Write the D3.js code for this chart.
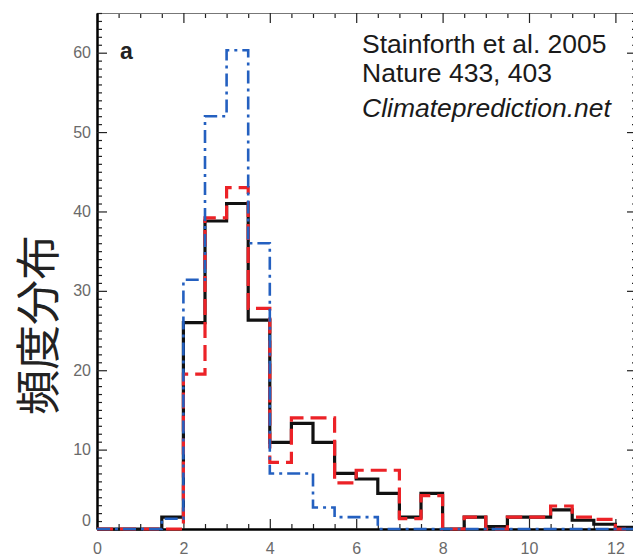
<!DOCTYPE html>
<html>
<head>
<meta charset="utf-8">
<script src="https://cdn.jsdelivr.net/npm/d3@7/dist/d3.min.js"></script>
<style>
  html, body { margin: 0; padding: 0; background: #fff; }
  svg { display: block; }
  .tick text { font-family: "Liberation Sans Narrow", "Liberation Sans", Arial, sans-serif; font-size: 16px; fill: #6a6a6a; }
</style>
</head>
<body>
<svg id="chart" width="633" height="557"></svg>
<script>
// Histogram bin edges: 0.5-wide bins from 0 to 12.5
const binEdges = [0, 0.5, 1, 1.5, 2, 2.5, 3, 3.5, 4, 4.5, 5, 5.5, 6, 6.5, 7, 7.5, 8, 8.5, 9, 9.5, 10, 10.5, 11, 11.5, 12, 12.5];

// Frequencies per bin (25 bins)
const solidBlack  = [0, 0, 0, 1.5, 26, 38.8, 41, 26.3, 10.9, 13.3, 10.9, 7, 6.3, 4.5, 1.5, 4.5, 0, 1.5, 0.3, 1.5, 1.5, 2.4, 1.1, 0.6, 0.2];
const dashedRed   = [0, 0, 0, 0, 19.5, 39.2, 43, 27.8, 8.4, 14, 14, 5.8, 7.4, 7.4, 1.3, 4.2, 0, 1.5, 0, 1.5, 1.5, 2.9, 1.5, 1.2, 0];
const dashDotBlue = [0, 0, 0, 1.3, 31.4, 52, 60.3, 36, 7, 7, 2.7, 1.5, 1.5, 0, 0, 0, 0, 0, 0, 0, 0, 0, 0, 0, 0];

const xTickValues = [0, 2, 4, 6, 8, 10, 12];
const yTickValues = [0, 10, 20, 30, 40, 50, 60];
const yTitle = "頻度分布";
const panelLabel = "a";
const noteLines = ["Stainforth et al. 2005", "Nature 433, 403"];
const noteItalic = "Climateprediction.net";

const svg = d3.select("#chart");
const plotLeft = 97, plotRight = 637, plotTop = 13, plotBottom = 529;

const x = d3.scaleLinear().domain([0, 12.5]).range([plotLeft, plotRight]);
const y = d3.scaleLinear().domain([0, 65]).range([plotBottom, plotTop]);

const minorX = d3.range(0, 12.51, 0.5).filter(v => v % 2 !== 0);
const minorY = d3.range(0, 65.01, 1).filter(v => v % 10 !== 0);

function styleAxis(g, domainWidth, domainColor) {
  g.select(".domain").attr("stroke", domainColor).attr("stroke-width", domainWidth);
  g.selectAll(".tick line").attr("stroke", "#222").attr("stroke-width", 1.2);
}

// Bottom axis: major ticks with labels, minor ticks every 0.5
svg.append("g").attr("transform", `translate(0,${plotBottom})`)
  .call(d3.axisBottom(x).tickValues(minorX).tickSizeInner(-5).tickSizeOuter(0).tickFormat(""))
  .call(g => styleAxis(g, 2, "#000"));
svg.append("g").attr("transform", `translate(0,${plotBottom})`)
  .call(d3.axisBottom(x).tickValues(xTickValues).tickSizeInner(-10).tickSizeOuter(0).tickPadding(14).tickFormat(d3.format("d")))
  .call(g => styleAxis(g, 2, "#000"));

// Top axis (ticks only)
svg.append("g").attr("transform", `translate(0,${plotTop})`)
  .call(d3.axisTop(x).tickValues(minorX).tickSizeInner(-5).tickSizeOuter(0).tickFormat(""))
  .call(g => styleAxis(g, 1, "#777"));
svg.append("g").attr("transform", `translate(0,${plotTop})`)
  .call(d3.axisTop(x).tickValues(xTickValues).tickSizeInner(-10).tickSizeOuter(0).tickFormat(""))
  .call(g => styleAxis(g, 1, "#777"));

// Left axis
svg.append("g").attr("transform", `translate(${plotLeft},0)`)
  .call(d3.axisLeft(y).tickValues(minorY).tickSizeInner(-5).tickSizeOuter(0).tickFormat(""))
  .call(g => styleAxis(g, 2, "#000"));
svg.append("g").attr("transform", `translate(${plotLeft},0)`)
  .call(d3.axisLeft(y).tickValues(yTickValues).tickSizeInner(-10).tickSizeOuter(0).tickPadding(6).tickFormat(d3.format("d")))
  .call(g => styleAxis(g, 2, "#000"))
  .call(g => g.selectAll(".tick text").filter(d => d === 0).attr("dy", "-0.2em"));

// Right axis (ticks only)
svg.append("g").attr("transform", `translate(${plotRight},0)`)
  .call(d3.axisRight(y).tickValues(minorY).tickSizeInner(-5).tickSizeOuter(0).tickFormat(""))
  .call(g => styleAxis(g, 1, "#555"));
svg.append("g").attr("transform", `translate(${plotRight},0)`)
  .call(d3.axisRight(y).tickValues(yTickValues).tickSizeInner(-10).tickSizeOuter(0).tickFormat(""))
  .call(g => styleAxis(g, 1, "#555"));

// Step histograms
const step = d3.line()
  .x(d => x(d[0]))
  .y(d => y(d[1]))
  .curve(d3.curveStepAfter);

function stepPoints(values) {
  const pts = values.map((v, i) => [binEdges[i], v]);
  pts.push([binEdges[binEdges.length - 1], values[values.length - 1]]);
  return pts;
}

const series = [
  { values: solidBlack,  color: "#111",    width: 3.2, dash: null },
  { values: dashedRed,   color: "#ec2227", width: 3.2, dash: "16,7" },
  { values: dashDotBlue, color: "#2460c0", width: 2.6, dash: "13,5,3,5" }
];

svg.append("g").selectAll("path")
  .data(series)
  .join("path")
  .attr("d", d => step(stepPoints(d.values)))
  .attr("fill", "none")
  .attr("stroke", d => d.color)
  .attr("stroke-width", d => d.width)
  .attr("stroke-dasharray", d => d.dash)
  .attr("stroke-linejoin", "miter")
  .attr("stroke-linecap", "butt");

// Panel label
svg.append("text")
  .attr("x", 120).attr("y", 59)
  .attr("font-family", "Liberation Sans, Arial, sans-serif")
  .attr("font-weight", "bold")
  .attr("font-size", 23)
  .attr("fill", "#222")
  .text(panelLabel);

// Citation note
const note = svg.append("g")
  .attr("font-family", "Liberation Sans, Arial, sans-serif")
  .attr("font-size", 26.5)
  .attr("fill", "#1a1a1a");
note.append("text").attr("x", 362).attr("y", 53).text(noteLines[0]);
note.append("text").attr("x", 362).attr("y", 82).text(noteLines[1]);
note.append("text").attr("x", 362).attr("y", 117).attr("font-style", "italic").text(noteItalic);

// Vertical axis title, centred on its own midpoint
svg.append("text")
  .attr("transform", "translate(35,325) rotate(-90)")
  .attr("text-anchor", "middle")
  .attr("dominant-baseline", "central")
  .attr("font-family", "Noto Sans CJK JP, Noto Sans CJK SC, sans-serif")
  .attr("font-size", 45)
  .attr("fill", "#222")
  .text(yTitle);
</script>
</body>
</html>
